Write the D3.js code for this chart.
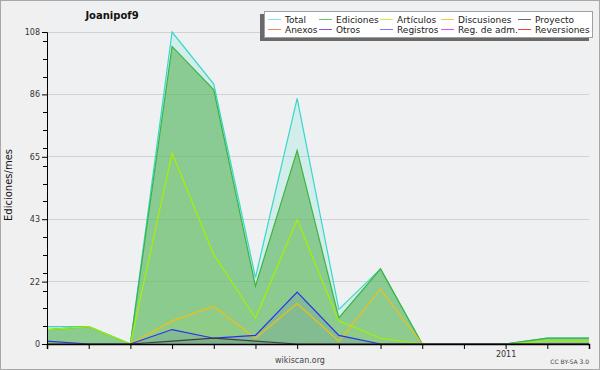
<!DOCTYPE html>
<html><head><meta charset="utf-8">
<script src="https://cdn.jsdelivr.net/npm/d3@7"></script>
<style>body{margin:0;background:#f0f0f0;}svg{display:block;font-family:"DejaVu Sans",sans-serif;}</style>
</head><body>
<svg id="c" width="600" height="370"></svg>
<script>
const months = ["2010-02","2010-03","2010-04","2010-05","2010-06","2010-07","2010-08","2010-09","2010-10","2010-11","2010-12","2011-01","2011-02","2011-03"];
const total       = [6, 6, 0, 108, 90, 23, 85, 12, 26, 0, 0, 0, 2, 2];
const ediciones   = [5, 6, 0, 103, 88, 20, 67,  9, 26, 0, 0, 0, 2, 2];
const articulos   = [5, 6, 0,  66, 31,  9, 43,  8,  2, 0, 0, 0, 1, 1];
const discusiones = [0, 0, 0,   8, 13,  2, 14,  1, 19, 0, 0, 0, 0, 0];
const registros   = [1, 0, 0,   5,  2,  3, 18,  3,  0, 0, 0, 0, 0, 0];
const proyecto    = [0, 0, 0,   1,  2,  1,  0,  0,  0, 0, 0, 0, 0, 0];
const yTicks = [0, 21.6, 43.2, 64.8, 86.4, 108];
const legendNames = ["Total","Ediciones","Artículos","Discusiones","Proyecto","Anexos","Otros","Registros","Reg. de adm.","Reversiones"];
const legendColors = ["#7fe6dc","#6cc46c","#c4f040","#f4c838","#6a6a6a","#f08850","#9050e0","#7878ff","#e050f0","#f04040"];
const title = "Joanipof9";

const svg = d3.select("#c");
const W = 600, H = 370;
svg.append("rect").attr("x",0.5).attr("y",0.5).attr("width",W-1).attr("height",H-1)
  .attr("fill","#f0f0f0").attr("stroke","#a8a8a8");

const x = d3.scalePoint().domain(months).range([47, 589]);
const y = d3.scaleLinear().domain([0, 108]).range([344, 32]);

svg.append("rect").attr("x",47).attr("y",1).attr("width",542).attr("height",343).attr("fill","#eef0f2");

// grid
svg.append("g").selectAll("line").data(yTicks.slice(1)).join("line")
  .attr("x1",47).attr("x2",589).attr("y1",d=>y(d)).attr("y2",d=>y(d))
  .attr("stroke","#d2d2d4").attr("stroke-width",1).attr("shape-rendering","crispEdges");

const series = [
  {v: total, line:"#38d8c8", fill:"#40e0d0", op:0.17},
  {v: ediciones, line:"#3cb43c", fill:"#5ab45a", op:0.6},
  {v: articulos, line:"#a6f000", fill:"#b0f000", op:0.04},
  {v: discusiones, line:"#f0c010", fill:"#f0c000", op:0.04},
  {v: registros, line:"#2e2ef0", fill:"#3030f0", op:0.1},
  {v: proyecto, line:"#404040", fill:"#404040", op:0.1}
];
const area = d3.area().x((d,i)=>x(months[i])).y0(y(0)).y1(d=>y(d));
const line = d3.line().x((d,i)=>x(months[i])).y(d=>y(d));
const gA = svg.append("g");
series.forEach(s=>{
  gA.append("path").attr("d",area(s.v)).attr("fill",s.fill).attr("fill-opacity",s.op);
});
series.forEach(s=>{
  gA.append("path").attr("d",line(s.v)).attr("fill","none").attr("stroke",s.line).attr("stroke-width",1.2);
});

// y axis
const yAxis = d3.axisLeft(y).tickValues(yTicks).tickFormat(d=>String(Math.round(d))).tickSize(5).tickPadding(2);
const gy = svg.append("g").attr("transform","translate(47,0)").call(yAxis);
gy.select(".domain").attr("stroke","#000");
gy.selectAll("text").attr("font-size",8).attr("fill","#333").attr("font-family","DejaVu Sans");
const minor = d3.range(1,18).map(k=>k*43.2/7).filter(v=>!yTicks.some(t=>Math.abs(t-v)<0.5));
svg.append("g").selectAll("line").data(minor).join("line")
  .attr("x1",43).attr("x2",47).attr("y1",d=>Math.round(y(d))+0.5).attr("y2",d=>Math.round(y(d))+0.5)
  .attr("stroke","#000");

// x axis
const xAxis = d3.axisBottom(x).tickSize(5).tickPadding(2).tickFormat(d=>d==="2011-01"?"2011":"");
const gx = svg.append("g").attr("transform","translate(0,344)").call(xAxis);
gx.select(".domain").attr("stroke","#000").attr("stroke-width",1.5);
gx.selectAll("text").attr("font-size",8).attr("fill","#333").attr("font-family","DejaVu Sans");

// labels
svg.append("text").attr("x",112).attr("y",19).attr("text-anchor","middle")
  .attr("font-size",10).attr("font-weight","bold").attr("fill","#111").text(title);
svg.append("text").attr("transform","translate(12,185) rotate(-90)").attr("text-anchor","middle")
  .attr("font-size",10).attr("fill","#111").text("Ediciones/mes");
svg.append("text").attr("x",300).attr("y",363).attr("text-anchor","middle")
  .attr("font-size",8).attr("fill","#444").text("wikiscan.org");
svg.append("text").attr("x",589).attr("y",364).attr("text-anchor","end")
  .attr("font-size",6).attr("fill","#444").text("CC BY-SA 3.0");

// legend
const lg = svg.append("g");
lg.append("rect").attr("x",260).attr("y",14).attr("width",329).attr("height",27).attr("fill","#6a6a6a");
lg.append("rect").attr("x",264.5).attr("y",11.5).attr("width",328).attr("height",26).attr("fill","#fff").attr("stroke","#a0a0a0");
const colX = [268, 319, 380, 441, 518];
legendNames.forEach((n,i)=>{
  const c = i%5, r = Math.floor(i/5);
  const ly = 19 + r*10;
  lg.append("line").attr("x1",colX[c]).attr("x2",colX[c]+13).attr("y1",ly+0.5).attr("y2",ly+0.5)
    .attr("stroke",legendColors[i]).attr("stroke-width",1);
  lg.append("text").attr("x",colX[c]+17).attr("y",ly+3.5).attr("font-size",9).attr("fill","#222").text(n);
});
</script>
</body></html>
